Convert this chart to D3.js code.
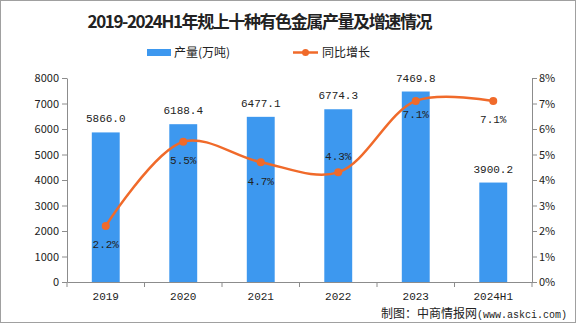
<!DOCTYPE html>
<html><head><meta charset="utf-8">
<script src="https://cdn.jsdelivr.net/npm/d3@7/dist/d3.min.js"></script>
<style>
html,body{margin:0;padding:0;background:#fff;}
svg{display:block;}
text{font-family:"Noto Sans CJK SC","DejaVu Sans",sans-serif;fill:#222;}
.num{font-family:"Liberation Mono","DejaVu Sans Mono",monospace;}
</style></head>
<body><svg id="c" width="576" height="327"></svg>
<script>
const categories = ["2019","2020","2021","2022","2023","2024H1"];
const production = [5866.0, 6188.4, 6477.1, 6774.3, 7469.8, 3900.2];
const growth = [2.2, 5.5, 4.7, 4.3, 7.1, 7.1];
const growthLabelOffset = [18, 18, 19, -16, 13, 18];
const leftTicks = [0,1000,2000,3000,4000,5000,6000,7000,8000];
const rightTicks = [0,1,2,3,4,5,6,7,8];

const svg = d3.select("#c");
const L = 67, R = 532, T = 78, B = 282;
const blue = "#3d98ef", orange = "#f06a2a", axisCol = "#8c8c8c";

svg.append("rect").attr("x",0.5).attr("y",0.5).attr("width",575).attr("height",322)
  .attr("fill","#fff").attr("stroke","#a0a0a0");

const x = d3.scaleBand().domain(categories).range([L,R]).padding(0);
const y = d3.scaleLinear().domain([0,8000]).range([B,T]);
const y2 = d3.scaleLinear().domain([0,8]).range([B,T]);

// title
svg.append("text").attr("x",260).attr("y",28).attr("text-anchor","middle")
  .attr("font-size",17).attr("font-weight","bold").attr("textLength",345)
  .text("2019-2024H1年规上十种有色金属产量及增速情况");

// legend
svg.append("rect").attr("x",147).attr("y",49).attr("width",24).attr("height",7).attr("fill",blue);
svg.append("text").attr("x",174).attr("y",57).attr("font-size",12).text("产量(万吨)");
svg.append("line").attr("x1",293).attr("x2",318).attr("y1",52.5).attr("y2",52.5).attr("stroke",orange).attr("stroke-width",2.5);
svg.append("circle").attr("cx",305.5).attr("cy",52.5).attr("r",3.5).attr("fill",orange);
svg.append("text").attr("x",322).attr("y",57).attr("font-size",12).text("同比增长");

// bars
const bw = x.bandwidth()*0.36;
svg.append("g").selectAll("rect").data(production).join("rect")
  .attr("x",(d,i)=>x(categories[i])+x.bandwidth()/2-bw/2)
  .attr("y",d=>y(d)).attr("width",bw).attr("height",d=>B-y(d)).attr("fill",blue);

svg.append("g").selectAll("text").data(production).join("text")
  .attr("class","num").attr("font-size",11).attr("text-anchor","middle")
  .attr("x",(d,i)=>x(categories[i])+x.bandwidth()/2)
  .attr("y",d=>y(d)-10).text(d=>d.toFixed(1));

// axes
const gl = svg.append("g").attr("transform",`translate(${L},0)`)
  .call(d3.axisLeft(y).tickValues(leftTicks).tickFormat(d3.format("d")).tickSize(5).tickSizeOuter(0).tickPadding(3));
const gr = svg.append("g").attr("transform",`translate(${R},0)`)
  .call(d3.axisRight(y2).tickValues(rightTicks).tickFormat(d=>d+"%").tickSize(5).tickSizeOuter(0).tickPadding(2));
const gb = svg.append("g").attr("transform",`translate(0,${B})`)
  .call(d3.axisBottom(x).tickSize(0).tickPadding(10));
const bounds = categories.map(c=>x(c)).concat([R]);
gb.selectAll(".bt").data(bounds).join("line").attr("class","bt")
  .attr("x1",d=>d).attr("x2",d=>d).attr("y1",0).attr("y2",5).attr("stroke",axisCol);
[gl,gr,gb].forEach(g=>{
  g.selectAll(".domain,.tick line").attr("stroke",axisCol);
  g.selectAll(".tick text").attr("font-size",11).attr("fill","#222")
   .attr("font-family",'"Liberation Sans","DejaVu Sans",sans-serif');
});
gb.selectAll(".tick text").attr("class","num").attr("font-size",11);

// line
const pts = growth.map((v,i)=>[x(categories[i])+x.bandwidth()/2, y2(v)]);
svg.append("path").datum(pts).attr("fill","none").attr("stroke",orange).attr("stroke-width",2.5)
  .attr("d",d3.line().curve(d3.curveCatmullRom.alpha(0.5)));
svg.append("g").selectAll("circle").data(pts).join("circle")
  .attr("cx",d=>d[0]).attr("cy",d=>d[1]).attr("r",4).attr("fill",orange);
svg.append("g").selectAll("text").data(growth).join("text")
  .attr("class","num").attr("font-size",11).attr("text-anchor","middle")
  .attr("x",(d,i)=>pts[i][0]).attr("y",(d,i)=>pts[i][1]+growthLabelOffset[i]+4)
  .text(d=>d.toFixed(1)+"%");

// source
const src = svg.append("text").attr("x",567).attr("y",318).attr("text-anchor","end").attr("font-size",12);
src.append("tspan").text("制图：中商情报网");
src.append("tspan").attr("class","num").attr("font-size",10).text("(www.askci.com)");
</script></body></html>
